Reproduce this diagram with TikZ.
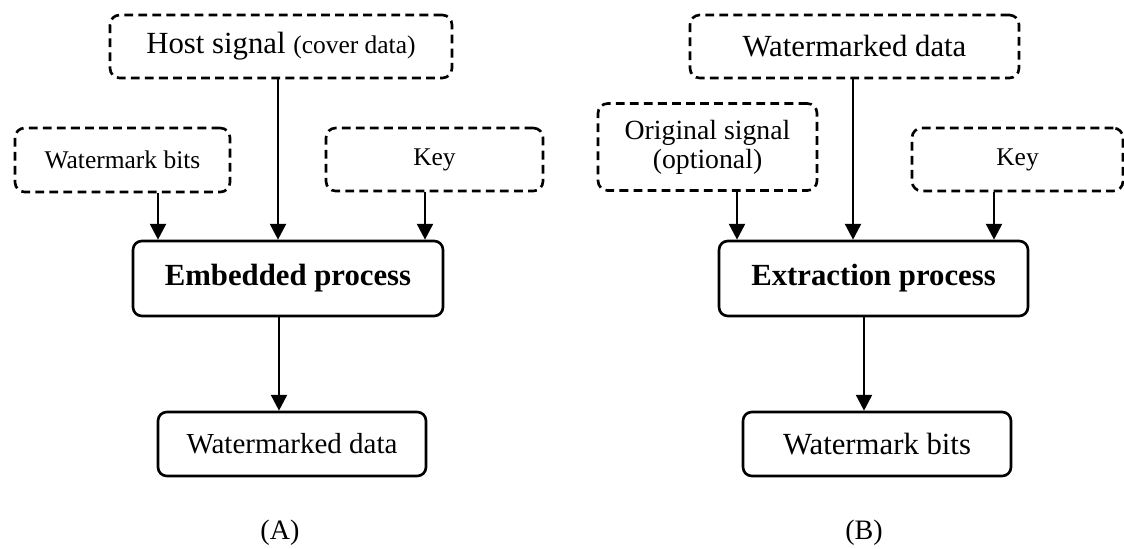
\documentclass[tikz,border=0pt]{standalone}
\usepackage{fontspec}
\setmainfont{Liberation Serif}
\usetikzlibrary{arrows.meta}

\begin{document}
\begin{tikzpicture}[x=0.02cm,y=-0.02cm,
		dbox/.style={draw,dash pattern=on 5pt off 3pt,line width=1.5pt,rounded corners=5.5pt,inner sep=0pt,align=center},
		sbox/.style={draw,line width=1.5pt,rounded corners=5pt,inner sep=0pt,align=center},
		arr/.style={line width=1.5pt,-{Triangle[width=9pt,length=9pt]}},
		bigtxt/.style={font=\fontsize{17.5}{21}\selectfont},
		midtxt/.style={font=\fontsize{15.8}{16.5}\selectfont},
		smalltxt/.style={font=\fontsize{14.5}{17}\selectfont},
		boldtxt/.style={font=\bfseries\fontsize{17.5}{21}\selectfont}]
	\useasboundingbox (0,0) rectangle (1124,548);

	% Встраивание (A)
	\node[dbox,bigtxt,minimum width=6.84cm,minimum height=1.26cm] (host) at (281,46.5) {Host signal {\fontsize{14.5}{17}\selectfont(cover data)}};
	\node[dbox,smalltxt,minimum width=4.3cm,minimum height=1.28cm] (wbitsA) at (122.5,160) {Watermark bits};
	\node[dbox,smalltxt,minimum width=4.34cm,minimum height=1.26cm] (keyA) at (434.5,159.5) {Key};
	\node[sbox,boldtxt,minimum width=6.2cm,minimum height=1.5cm] (embed) at (288,278.5) {Embedded process};
	\node[sbox,font=\fontsize{16.5}{20}\selectfont,minimum width=5.36cm,minimum height=1.28cm] (wdataA) at (292,444) {Watermarked data};
	\node[font=\fontsize{16}{19}\selectfont] (labA) at (280,533) {(A)};

	% Извлечение (B)
	\node[dbox,bigtxt,minimum width=6.58cm,minimum height=1.26cm] (wdataB) at (854.5,46.5) {Watermarked data};
	\node[dbox,midtxt,minimum width=4.38cm,minimum height=1.74cm] (orig) at (707.5,147) {Original signal\\(optional)};
	\node[dbox,smalltxt,minimum width=4.22cm,minimum height=1.26cm] (keyB) at (1017.5,159.5) {Key};
	\node[sbox,boldtxt,minimum width=6.18cm,minimum height=1.5cm] (extr) at (873.5,278.5) {Extraction process};
	\node[sbox,bigtxt,minimum width=5.36cm,minimum height=1.28cm] (wbitsB) at (877,444) {Watermark bits};
	\node[font=\fontsize{16}{19}\selectfont] (labB) at (864,533) {(B)};

	% Колонки стрелок
	\coordinate (a1) at (158,0);
	\coordinate (a2) at (278,0);
	\coordinate (a3) at (425,0);
	\coordinate (a4) at (279,0);
	\coordinate (b1) at (737,0);
	\coordinate (b2) at (853,0);
	\coordinate (b3) at (994,0);
	\coordinate (b4) at (864,0);

	% Стрелки
	\draw[arr] (wbitsA.south -| a1) -- (embed.north -| a1);
	\draw[arr] (host.south -| a2) -- (embed.north -| a2);
	\draw[arr] (keyA.south -| a3) -- (embed.north -| a3);
	\draw[arr] (embed.south -| a4) -- (wdataA.north -| a4);

	\draw[arr] (orig.south -| b1) -- (extr.north -| b1);
	\draw[arr] (wdataB.south -| b2) -- (extr.north -| b2);
	\draw[arr] (keyB.south -| b3) -- (extr.north -| b3);
	\draw[arr] (extr.south -| b4) -- (wbitsB.north -| b4);
\end{tikzpicture}
\end{document}
